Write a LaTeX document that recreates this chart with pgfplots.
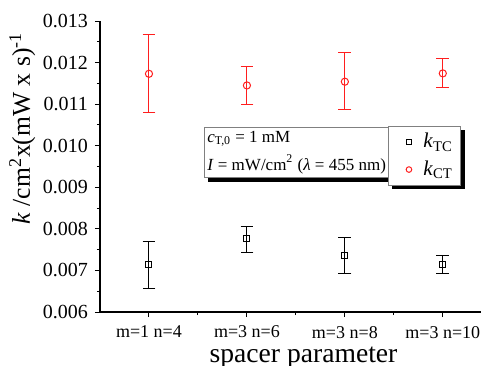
\documentclass[border=0pt]{standalone}
\usepackage{pgfplots}
\pgfplotsset{compat=1.18}
\usepackage{fontspec}
\setmainfont{Liberation Serif}
\usetikzlibrary{shadows}
\definecolor{cred}{RGB}{255,30,30}
\begin{document}
\begin{tikzpicture}[x=1bp,y=1bp]
\begin{axis}[
  name=ax,
  scale only axis,
  width=190.5bp, height=145.5bp,
  xmin=-0.5, xmax=3.39,
  ymin=0.006, ymax=0.013,
  axis x line*=bottom, axis y line*=left,
  axis line style={line width=0.6pt, -},
  tick align=outside,
  xtick={0,1,2,3},
  xticklabels={m=1 n=4, m=3 n=6, m=3 n=8, m=3 n=10},
  minor xtick={0.5,1.5,2.5},
  ytick={0.006,0.007,0.008,0.009,0.010,0.011,0.012,0.013},
  minor ytick={0.0065,0.0075,0.0085,0.0095,0.0105,0.0115,0.0125},
  yticklabel style={/pgf/number format/fixed, /pgf/number format/fixed zerofill, /pgf/number format/precision=3, /pgf/number format/assume math mode=true},
  scaled y ticks=false,
  major tick length=2.5bp, minor tick length=1.5bp,
  tick style={black, line width=0.5pt},
  x tick label style={font=\fontsize{9bp}{10bp}\selectfont, yshift=-1bp},
  y tick label style={font=\fontsize{10bp}{11bp}\selectfont},
  xlabel={spacer parameter},
  xlabel style={font=\fontsize{13.8bp}{14bp}\selectfont, yshift=2.3bp, xshift=6.5bp},
  ylabel={\textit{k} /cm\textsuperscript{2}x(mW x s)\textsuperscript{-1}},
  ylabel style={font=\fontsize{12.8bp}{14bp}\selectfont, yshift=-3bp, xshift=19bp},
  clip=false,
  legend style={at={(axis cs:2.44,0.01048)}, anchor=north west, draw=gray, line width=0.5pt,
    fill=white, font=\fontsize{10.5bp}{12bp}\selectfont, row sep=1bp,
    drop shadow={shadow xshift=2bp, shadow yshift=-2bp, fill=black, opacity=1},
    inner xsep=2bp, inner ysep=1.5bp},
  legend cell align=left,
  legend image code/.code={\path (0bp,0bp) (13bp,0bp); \draw[#1, mark size=1.4bp] plot[only marks] coordinates {(8bp,0bp)};},
]
\addplot[only marks, mark=square, mark size=1.5bp, black, line width=0.5pt,
  error bars/.cd, y dir=both, y explicit,
  error bar style={black, line width=0.5pt}, error mark options={rotate=90, mark size=3.2bp, black, line width=0.5pt}]
coordinates {
 (0,0.00714) += (0,0.00056) -= (0,0.00057)
 (1,0.00776) += (0,0.00030) -= (0,0.00032)
 (2,0.00736) += (0,0.00044) -= (0,0.00044)
 (3,0.00714) += (0,0.00022) -= (0,0.00021)
};
\addlegendentry{\textit{k}\textsubscript{TC}}
\addplot[only marks, mark=o, mark size=1.8bp, cred, line width=0.5pt,
  error bars/.cd, y dir=both, y explicit,
  error bar style={cred, line width=0.5pt}, error mark options={rotate=90, mark size=3.2bp, cred, line width=0.5pt}]
coordinates {
 (0,0.01173) += (0,0.00095) -= (0,0.00094)
 (1,0.01145) += (0,0.00046) -= (0,0.00046)
 (2,0.01154) += (0,0.00071) -= (0,0.00068)
 (3,0.01174) += (0,0.00035) -= (0,0.00035)
};
\addlegendentry{\textit{k}\textsubscript{CT}}
\node[draw=gray, line width=0.5pt, fill=white, anchor=north west, align=left,
  font=\fontsize{8.5bp}{14bp}\selectfont, inner xsep=1.5bp, inner ysep=2bp,
  drop shadow={shadow xshift=2bp, shadow yshift=-2bp, fill=black, opacity=1}]
  at (axis cs:0.56,0.01046) {\textit{c}\textsubscript{T,0} = 1 mM\\\textit{I} = mW/cm\textsuperscript{2} (\textit{λ} = 455 nm)};
\end{axis}
\pgfresetboundingbox
\path ([shift={(-50bp,-27bp)}]ax.south west) rectangle ([shift={(0bp,10.5bp)}]ax.north east);
\end{tikzpicture}
\end{document}
